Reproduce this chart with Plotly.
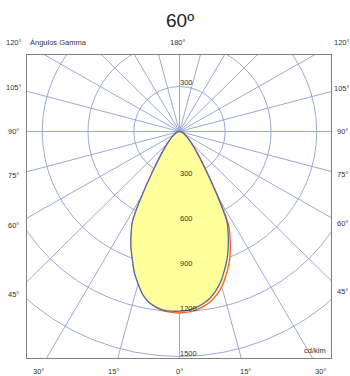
import numpy as np
import plotly.graph_objects as go

# ---------------- data ----------------
title_text = "60º"
unit_text = "cd/klm"
gamma_axis_title = "Ángulos Gamma"
ring_values = [300, 600, 900, 1200, 1500]
ring_labels = ["300", "600", "900", "1200", "1500"]
spoke_angles = list(range(0, 360, 15))
side_angles = [105, 90, 75, 60, 45]
side_labels = ["105°", "90°", "75°", "60°", "45°"]
bottom_angles = [-30, -15, 0, 15, 30]
bottom_labels = ["30°", "15°", "0°", "15°", "30°"]
corner_label = "120°"
top_label = "180°"

# gamma angles (deg) of the sampled intensities; negative = left half of the plane
gamma_left = [-30, -27.5, -25, -22.5, -20, -17.5, -15, -12.5, -10, -7.5, -5, -2.5]
gamma_right = [0, 2.5, 5, 7.5, 10, 12.5, 15, 17.5, 20, 22.5, 25, 27.5, 30]
# C0-C180 plane (blue), cd/klm
blue_left = [0, 660, 750, 832, 905, 985, 1050, 1113, 1155, 1180, 1195, 1199]
blue_right = [1197, 1193, 1180, 1160, 1132, 1090, 1041, 975, 909, 835, 755, 670, 0]
# C90-C270 plane (red), cd/klm
red_left = [0, 657, 747, 829, 902, 982, 1048, 1112, 1156, 1183, 1200, 1207]
red_right = [1210, 1206, 1197, 1178, 1155, 1118, 1072, 1010, 945, 870, 785, 690, 0]

# ---------------- layout geometry ----------------
W, H = 350, 376
ML, MR, MT, MB = 27, 19, 55, 18
SX, SY = 0.1525, 0.150          # px per cd/klm
CX, CY = 179.5, 131.5           # photometric centre (px)
PW, PH = W - ML - MR, H - MT - MB
xr = [-(CX - ML) / SX, (W - MR - CX) / SX]
yr = [-(H - MB - CY) / SY, (CY - MT) / SY]

GRID = "#9AAAD2"
TXT = "#333333"
FONT = "Arial, Liberation Sans, sans-serif"


def to_xy(g, r):
    g = np.radians(np.asarray(g, dtype=float))
    r = np.asarray(r, dtype=float)
    return r * np.sin(g), -r * np.cos(g)


def px_to_paper(px, py):
    return (px - ML) / PW, (H - MB - py) / PH


fig = go.Figure()

for g_l, g_r, v_l, v_r, col in ((gamma_left, gamma_right, red_left, red_right, "#FF5A36"),
                                 (gamma_left, gamma_right, blue_left, blue_right, "#5566AA")):
    xx, yy = to_xy(g_l + g_r, v_l + v_r)
    fig.add_trace(go.Scatter(x=xx, y=yy, mode="lines", fill="toself", fillcolor="#FFFF9C",
                             line=dict(color=col, width=1.3, shape="spline", smoothing=0.8),
                             hoverinfo="skip", showlegend=False))

shapes = []
for rv in ring_values:
    shapes.append(dict(type="circle", xref="x", yref="y", x0=-rv, x1=rv, y0=-rv, y1=rv,
                       line=dict(color=GRID, width=1), layer="below"))
big = 4000
for a in spoke_angles:
    ex, ey = to_xy(a, big)
    shapes.append(dict(type="line", xref="x", yref="y", x0=0, y0=0, x1=float(ex), y1=float(ey),
                       line=dict(color=GRID, width=1), layer="below"))

ann = []
lab_font = dict(size=7.5, color=TXT, family=FONT)
# ring labels along the downward vertical, plus the upper 300
for rv, lab in zip(ring_values, ring_labels):
    ann.append(dict(x=0, y=-rv, xref="x", yref="y", text=lab, showarrow=False,
                    xanchor="left", yanchor="bottom", xshift=-1.5, yshift=-3, font=lab_font))
ann.append(dict(x=0, y=ring_values[0], xref="x", yref="y", text=ring_labels[0], showarrow=False,
                xanchor="left", yanchor="bottom", xshift=-1.5, yshift=-2, font=lab_font))

# side angle labels: where each spoke reaches the label column
for a, lab in zip(side_angles, side_labels):
    g = np.radians(a)
    for colpx in (13.5, 342):
        dxp = colpx - CX
        t = abs(dxp) / (np.sin(g) * SX)
        pyy = CY + t * np.cos(g) * SY
        px, py = px_to_paper(colpx, pyy)
        ann.append(dict(x=px, y=py, xref="paper", yref="paper", text=lab, showarrow=False,
                        xanchor="center", yanchor="middle", font=lab_font))
# bottom angle labels
for a, lab in zip(bottom_angles, bottom_labels):
    g = np.radians(a)
    rowpx = 372
    t = (rowpx - CY) / (np.cos(g) * SY)
    pxx = CX + t * np.sin(g) * SX
    px, py = px_to_paper(pxx, rowpx)
    ann.append(dict(x=px, y=py, xref="paper", yref="paper", text=lab, showarrow=False,
                    xanchor="center", yanchor="middle", font=lab_font))
# top row
for txt, pxx, anc in ((corner_label, 14, "center"), (gamma_axis_title, 28, "left"),
                      (top_label, 177.5, "center"), (corner_label, 342, "center")):
    px, py = px_to_paper(pxx, 43)
    ann.append(dict(x=px, y=py, xref="paper", yref="paper", text=txt, showarrow=False,
                    xanchor=anc, yanchor="middle", font=lab_font))
# unit
px, py = px_to_paper(328, 350.5)
ann.append(dict(x=px, y=py, xref="paper", yref="paper", text=unit_text, showarrow=False,
                xanchor="right", yanchor="middle", font=lab_font))
# title
px, py = px_to_paper(180, 20.5)
ann.append(dict(x=px, y=py, xref="paper", yref="paper", text=title_text, showarrow=False,
                xanchor="center", yanchor="middle", font=dict(size=19, color="#222222", family=FONT)))

fig.update_layout(
    width=W, height=H, margin=dict(l=ML, r=MR, t=MT, b=MB, pad=0),
    paper_bgcolor="white", plot_bgcolor="white",
    shapes=shapes, annotations=ann, showlegend=False,
    xaxis=dict(range=xr, showgrid=False, zeroline=False, showticklabels=False, ticks="",
               showline=True, mirror=True, linecolor="#808080", linewidth=1, fixedrange=True),
    yaxis=dict(range=yr, showgrid=False, zeroline=False, showticklabels=False, ticks="",
               showline=True, mirror=True, linecolor="#808080", linewidth=1, fixedrange=True),
)
fig.write_html("out.html", config={"displayModeBar": False},
               post_script="document.body.style.margin='0';")
